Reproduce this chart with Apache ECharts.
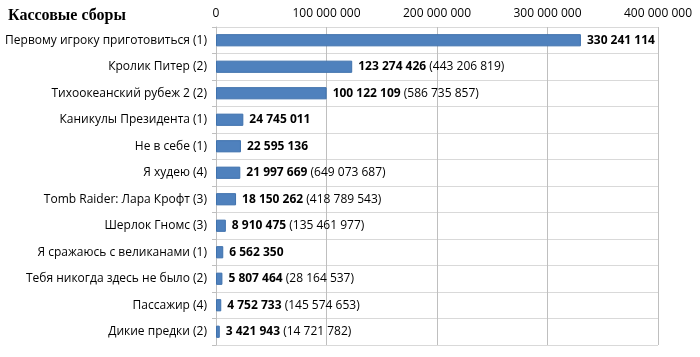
<!DOCTYPE html>
<html><head><meta charset="utf-8">
<script src="https://cdn.jsdelivr.net/npm/echarts@6/dist/echarts.min.js"></script>
<style>html,body{margin:0;padding:0;background:#fff}#c{width:700px;height:357px}</style>
</head><body><div id="c"></div>
<script>
var categories = ["Первому игроку приготовиться (1)","Кролик Питер (2)","Тихоокеанский рубеж 2 (2)","Каникулы Президента (1)","Не в себе (1)","Я худею (4)","Tomb Raider: Лара Крофт (3)","Шерлок Гномс (3)","Я сражаюсь с великанами (1)","Тебя никогда здесь не было (2)","Пассажир (4)","Дикие предки (2)"];
var values = [330241114,123274426,100122109,24745011,22595136,21997669,18150262,8910475,6562350,5807464,4752733,3421943];
var totals = [null,443206819,586735857,null,null,649073687,418789543,135461977,null,28164537,145574653,14721782];
var xTicks = [0,100000000,200000000,300000000,400000000];

function fmt(n){return String(n).replace(/\B(?=(\d{3})+(?!\d))/g,' ');}
var chart = echarts.init(document.getElementById('c'));
var FONT = '"Open Sans", "Noto Sans", sans-serif';
chart.setOption({
  animation:false,
  title:{text:'Кассовые сборы',left:3,top:3,textStyle:{fontFamily:'"Liberation Serif", serif',fontWeight:'bold',fontSize:16,color:'#000'}},
  grid:{left:216,right:42,top:27,bottom:12,containLabel:false},
  xAxis:{type:'value',position:'top',min:xTicks[0],max:xTicks[xTicks.length-1],interval:100000000,
    axisLine:{show:false},axisTick:{show:false},
    axisLabel:{formatter:function(v){return fmt(v);},fontFamily:FONT,fontSize:12,color:'#000',margin:7},
    splitLine:{show:true,lineStyle:{color:'#bfbfbf',width:1}}},
  yAxis:{type:'category',data:categories,inverse:true,
    axisLine:{show:true,lineStyle:{color:'#bfbfbf'}},
    axisTick:{show:true,length:4,lineStyle:{color:'#bfbfbf'}},
    axisLabel:{fontFamily:FONT,fontSize:12,color:'#000',margin:9},
    splitLine:{show:true,lineStyle:{color:'#d9d9d9',width:1}}},
  series:[{type:'bar',data:values,barWidth:'46%',
    itemStyle:{color:'#4f81bd',borderColor:'#3f72ad',borderWidth:1},
    label:{show:true,position:'right',distance:6,fontFamily:FONT,fontSize:12,color:'#000',
      formatter:function(p){var t=totals[p.dataIndex];return '{b|'+fmt(p.value)+'}'+(t?' {n|('+fmt(t)+')}':'');},
      rich:{b:{fontWeight:'bold',fontFamily:FONT,fontSize:12,color:'#000'},n:{fontFamily:FONT,fontSize:12,color:'#000'}}}
  }]
});
</script></body></html>
